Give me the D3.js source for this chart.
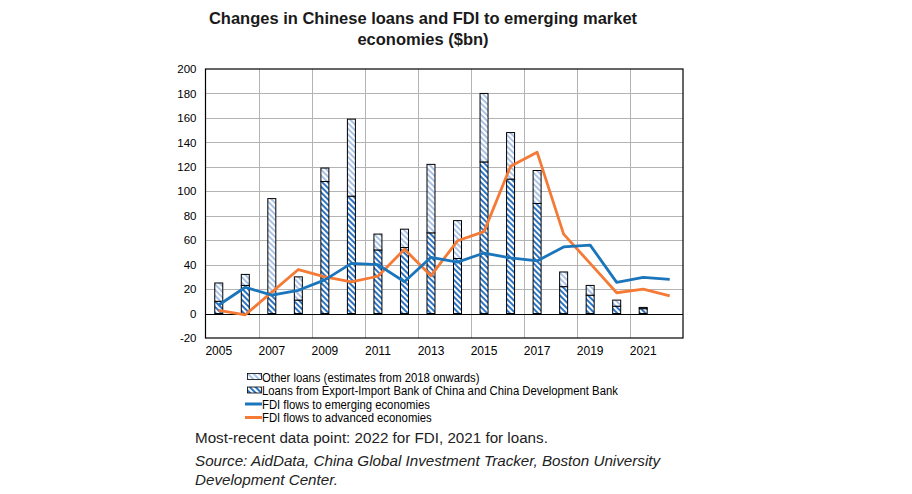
<!DOCTYPE html>
<html>
<head>
<meta charset="utf-8">
<script src="https://cdn.jsdelivr.net/npm/d3@7/dist/d3.min.js"></script>
<style>
  html, body { margin: 0; padding: 0; background: #fff; }
  svg { display: block; font-family: "Liberation Sans", Arial, sans-serif; }
</style>
</head>
<body>
<svg id="chart" width="912" height="494"></svg>
<script>
// ---- data ----
const years = [2005,2006,2007,2008,2009,2010,2011,2012,2013,2014,2015,2016,2017,2018,2019,2020,2021,2022];
// Loans from Export-Import Bank of China and China Development Bank (to 2021)
const eximLoans = [10,23,15,11,108,96,52,54,66,45,124,110,90,22,15,6,4,null];
// Total loans (EXIM + other) (to 2021)
const totalLoans = [25,32,94,30,119,159,65,69,122,76,180,148,117,34,23,11,5,null];
// Other loans = total - exim
const otherLoans = totalLoans.map((t, i) => t == null ? null : t - eximLoans[i]);
const fdiEmerging = [7,21.5,15,19,27.5,41,40,26,46,42,49.5,45.5,43,54.5,56,25.5,29.5,28];
const fdiAdvanced = [2.5,-1,17.5,36,30,26,30.5,52.5,31,59.5,67,120.5,132,65,41,17,20,14.5];
const yTicks = [-20,0,20,40,60,80,100,120,140,160,180,200];
const xTickYears = [2005,2007,2009,2011,2013,2015,2017,2019,2021];

const titleLines = ["Changes in Chinese loans and FDI to emerging market", "economies ($bn)"];
const legendItems = [
  {label: "Other loans (estimates from 2018 onwards)", type: "other"},
  {label: "Loans from Export-Import Bank of China and China Development Bank", type: "exim"},
  {label: "FDI flows to emerging economies", type: "lineE"},
  {label: "FDI flows to advanced economies", type: "lineA"}
];
const noteText = "Most-recent data point: 2022 for FDI, 2021 for loans.";
const sourceLines = ["Source: AidData, China Global Investment Tracker, Boston University", "Development Center."];

// ---- styles ----
const BLUE = "#1b75bb";
const ORANGE = "#f47a36";
const HATCH_DARK = "#2e74c0";
const HATCH_LIGHT = "#a9c2e6";

const svg = d3.select("#chart");
const defs = svg.append("defs");
function hatch(id, color) {
  const p = defs.append("pattern").attr("id", id)
    .attr("patternUnits", "userSpaceOnUse").attr("width", 4).attr("height", 4)
    .attr("patternTransform", "rotate(45)");
  p.append("rect").attr("width", 4).attr("height", 4).attr("fill", "#fff");
  p.append("rect").attr("x", 0).attr("y", 0).attr("width", 4).attr("height", 2).attr("fill", color);
}
hatch("hDark", HATCH_DARK);
hatch("hLight", HATCH_LIGHT);

const plot = {left: 205.5, right: 683, top: 69, bottom: 338};
const x = d3.scaleBand().domain(years).range([plot.left, plot.right]).padding(0);
const y = d3.scaleLinear().domain([-20, 200]).range([plot.bottom, plot.top]);
const barW = 8;

// gridlines
const g = svg.append("g");
g.selectAll(".hg").data(yTicks.filter(v => v !== -20 && v !== 200 && v !== 0)).join("line")
  .attr("x1", plot.left).attr("x2", plot.right)
  .attr("y1", d => Math.round(y(d)) + 0.5).attr("y2", d => Math.round(y(d)) + 0.5)
  .attr("stroke", "#b3b3b3").attr("stroke-width", 1);
g.selectAll(".vg").data(xTickYears.slice(1)).join("line")
  .attr("x1", d => Math.round(x(d)) + 0.5).attr("x2", d => Math.round(x(d)) + 0.5)
  .attr("y1", plot.top).attr("y2", plot.bottom)
  .attr("stroke", "#b3b3b3").attr("stroke-width", 1);

// bars
const barData = years.map((yr, i) => ({yr, exim: eximLoans[i], other: otherLoans[i]})).filter(d => d.exim != null);
const bars = svg.append("g");
bars.selectAll(".exim").data(barData).join("rect")
  .attr("x", d => x(d.yr) + x.bandwidth() / 2 - barW / 2)
  .attr("width", barW)
  .attr("y", d => y(d.exim))
  .attr("height", d => y(0) - y(d.exim))
  .attr("fill", "url(#hDark)").attr("stroke", "#000").attr("stroke-width", 1);
bars.selectAll(".other").data(barData).join("rect")
  .attr("x", d => x(d.yr) + x.bandwidth() / 2 - barW / 2)
  .attr("width", barW)
  .attr("y", d => y(d.exim + d.other))
  .attr("height", d => y(d.exim) - y(d.exim + d.other))
  .attr("fill", "url(#hLight)").attr("stroke", "#000").attr("stroke-width", 1);

// zero line
svg.append("line").attr("x1", plot.left).attr("x2", plot.right)
  .attr("y1", Math.round(y(0)) + 0.5).attr("y2", Math.round(y(0)) + 0.5)
  .attr("stroke", "#000").attr("stroke-width", 1.2);

// lines
const line = d3.line().x((d, i) => x(years[i]) + x.bandwidth() / 2).y(d => y(d));
svg.append("path").datum(fdiAdvanced).attr("d", line)
  .attr("fill", "none").attr("stroke", ORANGE).attr("stroke-width", 2.8).attr("stroke-linejoin", "round");
svg.append("path").datum(fdiEmerging).attr("d", line)
  .attr("fill", "none").attr("stroke", BLUE).attr("stroke-width", 2.8).attr("stroke-linejoin", "round");

svg.append("rect").attr("x", plot.left).attr("y", plot.top)
  .attr("width", plot.right - plot.left).attr("height", plot.bottom - plot.top)
  .attr("fill", "none").attr("stroke", "#000").attr("stroke-width", 1.2);

// axes labels
const yAxis = d3.axisLeft(y).tickValues(yTicks).tickSize(0).tickPadding(9).tickFormat(d => String(d));
svg.append("g").attr("transform", `translate(${plot.left},0)`).call(yAxis)
  .call(a => a.select(".domain").remove())
  .call(a => a.selectAll("text").attr("font-size", 11.5).attr("fill", "#000")
    .attr("font-family", "'Liberation Sans', Arial, sans-serif"));

const xAxis = d3.axisBottom(x).tickValues(xTickYears).tickSize(0).tickPadding(8);
svg.append("g").attr("transform", `translate(0,${plot.bottom})`).call(xAxis)
  .call(a => a.select(".domain").remove())
  .call(a => a.selectAll("text").attr("font-size", 12).attr("fill", "#000")
    .attr("font-family", "'Liberation Sans', Arial, sans-serif"));

// title
svg.append("text").attr("x", 423).attr("y", 24).attr("text-anchor", "middle")
  .attr("font-size", 16.5).attr("font-weight", "bold").attr("fill", "#1a1a1a")
  .selectAll("tspan").data(titleLines).join("tspan")
  .attr("x", 423).attr("dy", (d, i) => i === 0 ? 0 : 21).text(d => d);

// legend
const lg = svg.append("g");
legendItems.forEach((it, i) => {
  const cy = 377 + i * 13.5;
  if (it.type === "other" || it.type === "exim") {
    lg.append("rect").attr("x", 247.5).attr("y", cy - 3.5).attr("width", 14).attr("height", 6)
      .attr("fill", it.type === "other" ? "url(#hLight)" : "url(#hDark)")
      .attr("stroke", "#000").attr("stroke-width", 0.8);
  } else {
    lg.append("line").attr("x1", 245).attr("x2", 262).attr("y1", cy).attr("y2", cy)
      .attr("stroke", it.type === "lineE" ? BLUE : ORANGE).attr("stroke-width", 3);
  }
  const t = lg.append("text").attr("x", 262).attr("y", cy + 4.5).attr("font-size", 12.5)
    .attr("fill", "#000").text(it.label);
  const w = t.node().getComputedTextLength();
  t.attr("textLength", w * 0.905).attr("lengthAdjust", "spacingAndGlyphs");
});

// notes
svg.append("text").attr("x", 195).attr("y", 443).attr("font-size", 15.2).attr("fill", "#222").text(noteText);
svg.append("text").attr("font-size", 15.2).attr("font-style", "italic").attr("fill", "#222")
  .selectAll("tspan").data(sourceLines).join("tspan")
  .attr("x", 195).attr("y", (d, i) => 466 + i * 19).text(d => d);
</script>
</body>
</html>
